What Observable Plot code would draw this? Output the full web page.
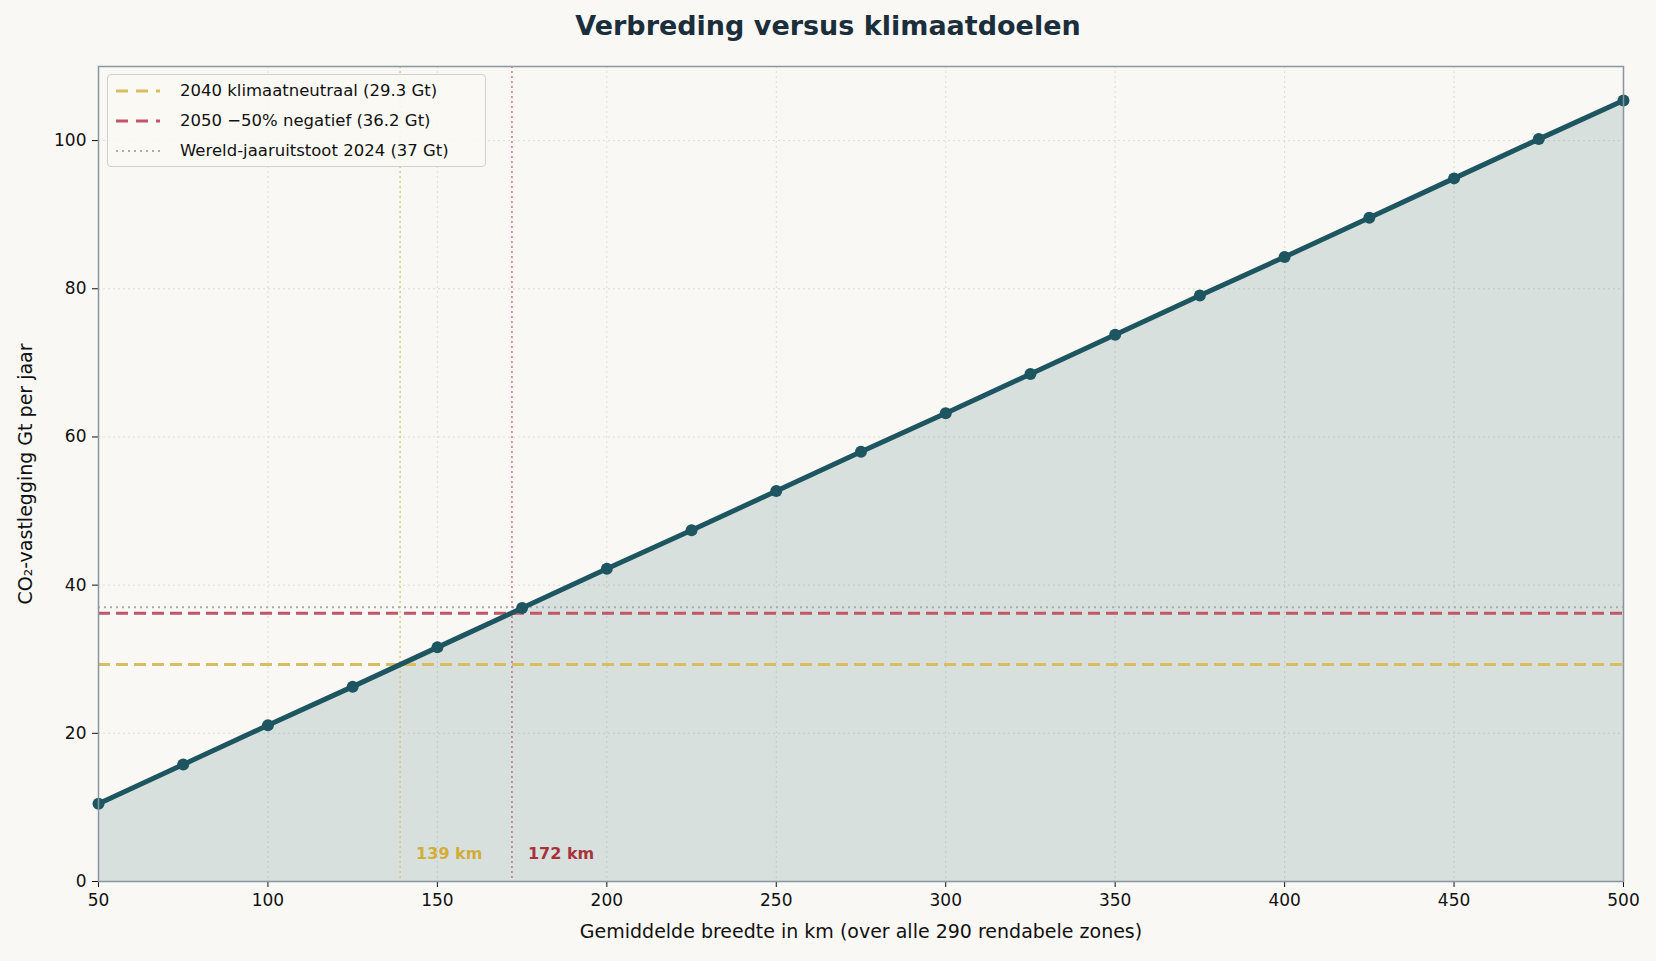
<!DOCTYPE html>
<html><head><meta charset="utf-8">
<script src="https://cdn.jsdelivr.net/npm/d3@7"></script>
<script src="https://cdn.jsdelivr.net/npm/@observablehq/plot@0.6"></script>
<style>
body{margin:0;background:#f9f8f4;font-family:"DejaVu Sans",sans-serif;}
#wrap{position:relative;width:1656px;height:961px;}
h1{margin:0;height:50px;line-height:52px;text-align:center;font-size:27px;font-weight:bold;color:#1b2e3c;}
#legend{position:absolute;left:107px;top:74px;width:377px;height:91px;background:rgba(249,248,244,0.9);border:1px solid #d0d0d0;border-radius:4px;font-size:16.5px;color:#111;}
#legend div{height:28px;line-height:28px;display:flex;align-items:center;padding-left:8px;margin-top:2px}
#legend svg{margin-right:20px}
g[aria-label="x-axis label"] text, g[aria-label="y-axis label"] text{font-size:19px;}
g[aria-label="x-axis tick label"] text, g[aria-label="y-axis tick label"] text{font-size:17px;}
</style></head><body>
<div id="wrap"><h1>Verbreding versus klimaatdoelen</h1><div id="chart"></div>
<div id="legend">
<div><svg width="44" height="6"><line x1="0" x2="44" y1="3" y2="3" stroke="#d8bd62" stroke-width="3" stroke-dasharray="12,8"/></svg>2040 klimaatneutraal (29.3 Gt)</div>
<div><svg width="44" height="6"><line x1="0" x2="44" y1="3" y2="3" stroke="#c05668" stroke-width="3" stroke-dasharray="12,8"/></svg>2050 −50% negatief (36.2 Gt)</div>
<div><svg width="44" height="6"><line x1="0" x2="44" y1="3" y2="3" stroke="#a5abb3" stroke-width="2" stroke-dasharray="2,4"/></svg>Wereld-jaaruitstoot 2024 (37 Gt)</div>
</div></div>
<script>
const widths=[50,75,100,125,150,175,200,225,250,275,300,325,350,375,400,425,450,475,500];
const co2=[10.5,15.8,21.1,26.3,31.6,36.9,42.2,47.4,52.7,58.0,63.2,68.5,73.8,79.1,84.3,89.6,94.9,100.2,105.4];
const targets=[{name:"2040 klimaatneutraal",value:29.3,km:139},{name:"2050 −50% negatief",value:36.2,km:172}];
const worldEmission=37;
const data=widths.map((w,i)=>({w,v:co2[i]}));
const xt=[50,100,150,200,250,300,350,400,450,500], yt=[0,20,40,60,80,100];
const chart=Plot.plot({
 width:1656,height:911,marginLeft:98,marginRight:33,marginTop:16,marginBottom:80,
 style:{background:"transparent",fontFamily:"DejaVu Sans",fontSize:"16px",color:"#111"},
 x:{domain:[50,500],ticks:xt,label:"Gemiddelde breedte in km (over alle 290 rendabele zones)",labelAnchor:"center",labelArrow:"none",labelOffset:56,tickSize:6,tickPadding:6},
 y:{domain:[0,110],ticks:yt,label:"CO₂-vastlegging Gt per jaar",labelAnchor:"center",labelArrow:"none",labelOffset:80,tickSize:6,tickPadding:6},
 marks:[
  Plot.gridX(xt,{stroke:"#ccc",strokeOpacity:0.6,strokeDasharray:"2,3"}),
  Plot.gridY(yt,{stroke:"#ccc",strokeOpacity:0.6,strokeDasharray:"2,3"}),
  Plot.areaY(data,{x:"w",y:"v",fill:"#1d5560",fillOpacity:0.15}),
  Plot.ruleY([worldEmission],{stroke:"#a5abb3",strokeWidth:2,strokeDasharray:"2,4"}),
  Plot.ruleY(targets,{y:"value",stroke:(d,i)=>i,strokeWidth:3,strokeDasharray:"12,6"}),
  Plot.ruleX(targets,{x:"km",stroke:(d,i)=>i,strokeWidth:1.5,strokeDasharray:"2,3",strokeOpacity:0.8}),
  Plot.text(targets,{x:"km",y:0,dx:16,dy:-28,text:d=>d.km+" km",textAnchor:"start",fontWeight:"bold",fontSize:16,fill:(d,i)=>["#d2ad3a","#a8323c"][i]}),
  Plot.line(data,{x:"w",y:"v",stroke:"#1d5560",strokeWidth:5}),
  Plot.dot(data,{x:"w",y:"v",fill:"#1d5560",r:6}),
  Plot.frame({stroke:"#8a969f",strokeWidth:1.5})
 ],
 color:{type:"ordinal",domain:[0,1],range:["#d8bd62","#c05668"]}
});
document.getElementById("chart").append(chart);
</script></body></html>
